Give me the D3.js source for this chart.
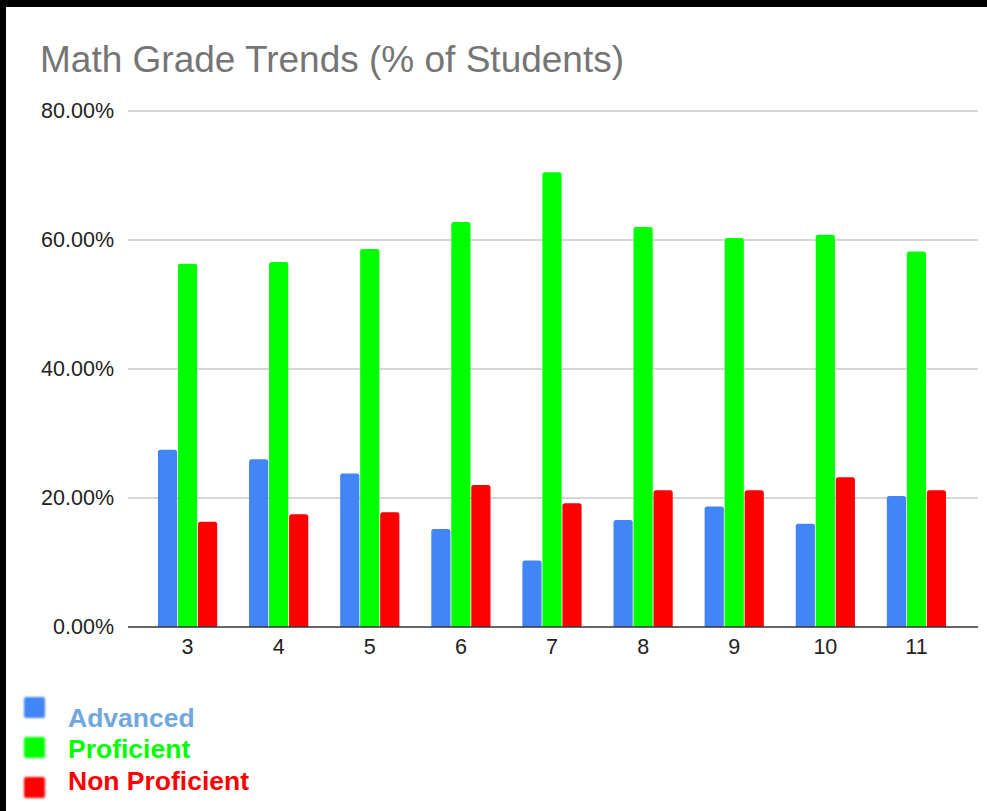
<!DOCTYPE html>
<html>
<head>
<meta charset="utf-8">
<script src="https://cdn.jsdelivr.net/npm/d3@7"></script>
<style>
  html, body { margin: 0; padding: 0; background: #000; }
  svg { display: block; font-family: "Liberation Sans", Arial, sans-serif; }
</style>
</head>
<body>
<svg id="chart" width="987" height="811"></svg>
<script>
const grades = [`3`, `4`, `5`, `6`, `7`, `8`, `9`, `10`, `11`];
const seriesNames = [`Advanced`, `Proficient`, `Non Proficient`];
const advanced = [27.5, 26.0, 23.8, 15.2, 10.3, 16.6, 18.7, 16.0, 20.3];
const proficient = [56.3, 56.6, 58.6, 62.8, 70.5, 62.0, 60.3, 60.8, 58.2];
const nonProficient = [16.3, 17.5, 17.8, 22.0, 19.2, 21.2, 21.2, 23.2, 21.2];
const yTicks = [0, 20, 40, 60, 80];

const barColors = [`#4285f4`, `#00ff00`, `#ff0000`];
const legendColors = [`#6fa8dc`, `#00ff00`, `#ff0000`];

const width = 987;
const height = 811;
const plotLeft = 128;
const plotRight = 978;
const plotTop = 111;
const plotBottom = 627;

const svg = d3.select(`#chart`);

// white card over black frame
svg.append(`rect`)
    .attr(`x`, 6).attr(`y`, 7)
    .attr(`width`, width - 6).attr(`height`, height - 7)
    .attr(`fill`, `#fff`);

const defs = svg.append(`defs`);
defs.append(`filter`).attr(`id`, `soft`)
    .append(`feGaussianBlur`).attr(`stdDeviation`, 0.9);

svg.append(`text`)
    .attr(`x`, 40).attr(`y`, 72)
    .attr(`font-size`, `37px`)
    .attr(`fill`, `#757575`)
    .text(`Math Grade Trends (% of Students)`);

const yScale = d3.scaleLinear()
    .domain([0, 80])
    .range([plotBottom, plotTop]);

const x0 = d3.scaleBand()
    .domain(grades)
    .range([142, 962])
    .paddingInner(0.35)
    .paddingOuter(0.175);

const x1 = d3.scaleBand()
    .domain(seriesNames)
    .range([0, x0.bandwidth()])
    .paddingInner(0.04);

// gridlines + y labels
const grid = svg.append(`g`);
grid.selectAll(`line`)
    .data(yTicks.filter(t => t > 0))
    .enter()
    .append(`line`)
    .attr(`x1`, plotLeft).attr(`x2`, plotRight)
    .attr(`y1`, d => yScale(d)).attr(`y2`, d => yScale(d))
    .attr(`stroke`, `#c8c8c8`)
    .attr(`stroke-width`, 1.3);

const yAxis = d3.axisLeft(yScale)
    .tickValues(yTicks)
    .tickSize(0)
    .tickPadding(14)
    .tickFormat(d => `${d3.format(`.2f`)(d)}%`);

svg.append(`g`)
    .attr(`transform`, `translate(${plotLeft}, 0)`)
    .call(yAxis)
    .call(g => g.select(`.domain`).remove())
    .call(g => g.selectAll(`text`)
        .attr(`font-size`, `21.5px`)
        .attr(`fill`, `#222`)
        .attr(`font-family`, `"Liberation Sans", Arial, sans-serif`));

// bars
const rows = grades.map((g, i) => ({
    grade: g,
    values: [advanced[i], proficient[i], nonProficient[i]]
}));

const topRounded = (x, y, w, h, r) =>
    `M${x},${y + h}V${y + r}Q${x},${y} ${x + r},${y}H${x + w - r}Q${x + w},${y} ${x + w},${y + r}V${y + h}Z`;

const groups = svg.append(`g`)
    .selectAll(`g`)
    .data(rows)
    .enter()
    .append(`g`)
    .attr(`transform`, d => `translate(${x0(d.grade)}, 0)`);

groups.selectAll(`path`)
    .data(d => d.values.map((v, i) => ({ name: seriesNames[i], value: v, color: barColors[i] })))
    .enter()
    .append(`path`)
    .attr(`d`, d => topRounded(x1(d.name), yScale(d.value), x1.bandwidth(), plotBottom - yScale(d.value), 2.5))
    .attr(`fill`, d => d.color);

// baseline
svg.append(`line`)
    .attr(`x1`, plotLeft).attr(`x2`, plotRight)
    .attr(`y1`, plotBottom).attr(`y2`, plotBottom)
    .attr(`stroke`, `#333`)
    .attr(`stroke-width`, 1.6);

const xAxis = d3.axisBottom(x0).tickSize(0).tickPadding(12);
svg.append(`g`)
    .attr(`transform`, `translate(0, ${plotBottom})`)
    .call(xAxis)
    .call(g => g.select(`.domain`).remove())
    .call(g => g.selectAll(`text`)
        .attr(`font-size`, `21.5px`)
        .attr(`fill`, `#222`)
        .attr(`font-family`, `"Liberation Sans", Arial, sans-serif`));

// legend
const legendSquareY = [697, 737, 777];
const legendTextY = [727, 758, 790];
const legend = svg.append(`g`);
legend.selectAll(`rect`)
    .data(seriesNames)
    .enter()
    .append(`rect`)
    .attr(`x`, 24)
    .attr(`y`, (d, i) => legendSquareY[i])
    .attr(`width`, 21).attr(`height`, 21)
    .attr(`rx`, 2)
    .attr(`fill`, (d, i) => barColors[i])
    .attr(`filter`, `url(#soft)`);

legend.selectAll(`text`)
    .data(seriesNames)
    .enter()
    .append(`text`)
    .attr(`x`, 68)
    .attr(`y`, (d, i) => legendTextY[i])
    .attr(`font-size`, `26.5px`)
    .attr(`font-weight`, `bold`)
    .attr(`fill`, (d, i) => legendColors[i])
    .text(d => d);
</script>
</body>
</html>
